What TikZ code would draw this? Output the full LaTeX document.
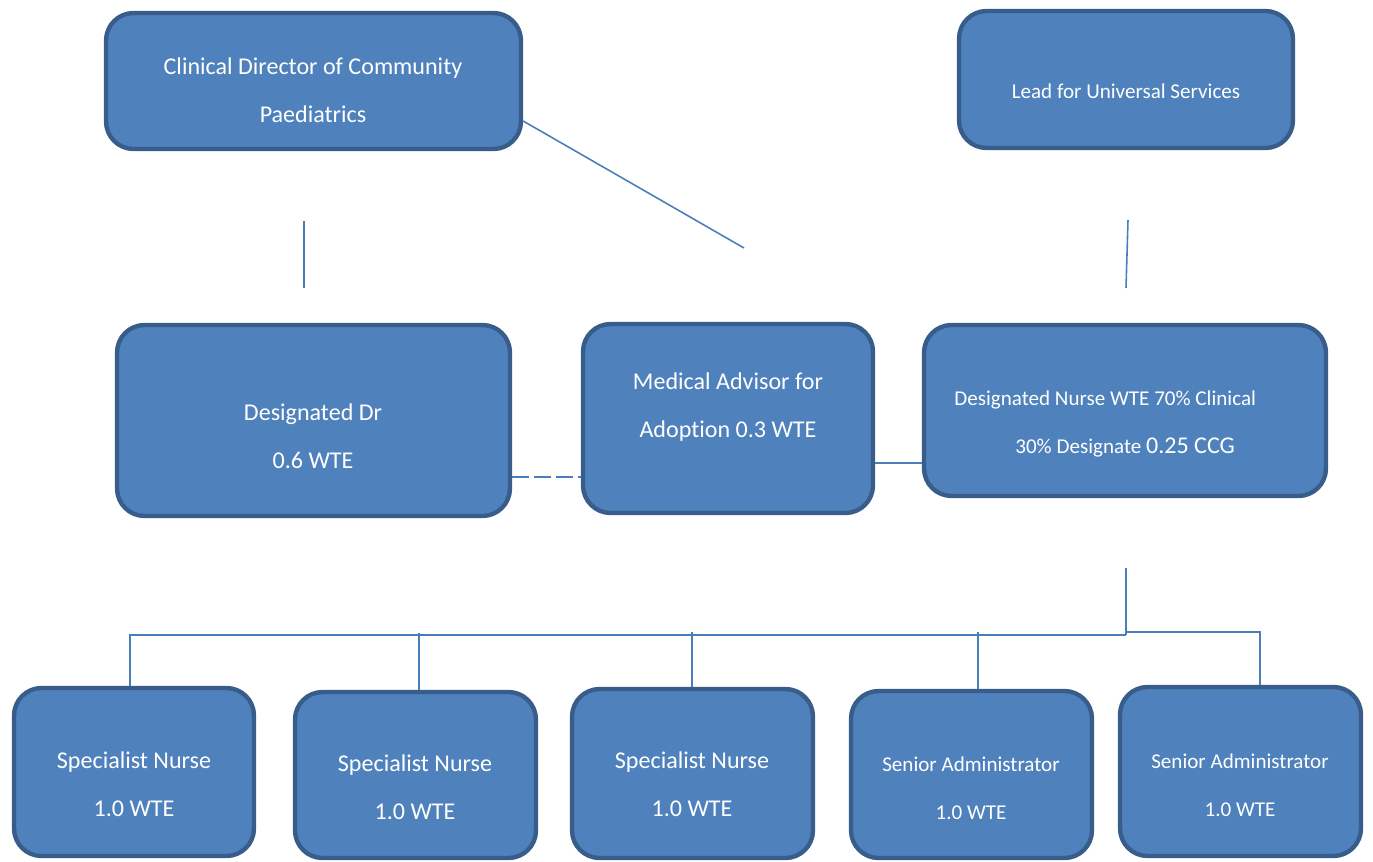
\documentclass[tikz,border=0pt]{standalone}
\usepackage{fontspec}
\setmainfont[Ligatures=NoCommon]{Carlito}
\definecolor{postfill}{HTML}{4F81BD}
\definecolor{postline}{HTML}{385D8A}
\definecolor{linkline}{HTML}{4A7EBB}
\begin{document}
\begin{tikzpicture}[x=0.02cm, y=-0.02cm,
  post/.style={draw=postline, fill=postfill, line width=2.5pt, rounded corners=0.55cm, inner sep=0pt},
  txt/.style={text=white, align=center, inner sep=0pt, font=\fontsize{13.7}{27.2}\selectfont},
  smalltxt/.style={txt, font=\fontsize{12}{27.2}\selectfont},
  link/.style={draw=linkline, line width=0.9pt}]
\useasboundingbox (0,0) rectangle (1373,862);
% top row
\node[post, minimum width=8.30cm, minimum height=2.72cm] (cd) at (313.5,81) {};
\node[post, minimum width=6.68cm, minimum height=2.74cm] (lead) at (1126,79.5) {};
% middle row
\node[post, minimum width=7.86cm, minimum height=3.82cm] (dd) at (313.5,420.5) {};
\node[post, minimum width=5.80cm, minimum height=3.78cm] (ma) at (728,418.5) {};
\node[post, minimum width=8.04cm, minimum height=3.42cm] (dn) at (1125,410.5) {};
% bottom row
\node[post, minimum width=4.80cm, minimum height=3.36cm] (sn1) at (134,772) {};
\node[post, minimum width=4.82cm, minimum height=3.32cm] (sn2) at (415.5,775) {};
\node[post, minimum width=4.82cm, minimum height=3.38cm] (sn3) at (692.5,773.5) {};
\node[post, minimum width=4.82cm, minimum height=3.34cm] (sa1) at (971.5,774.5) {};
\node[post, minimum width=4.82cm, minimum height=3.38cm] (sa2) at (1240.5,771.5) {};
% texts
\node[txt] (cdText) at (313,90.5) {Clinical Director of Community\\Paediatrics};
\node[smalltxt] (leadText) at (1126,91) {Lead for Universal Services};
\node[txt] (ddText) at (313,436.5) {Designated Dr\\0.6 WTE};
\node[txt] (maText) at (728,407) {Medical Advisor for\\Adoption 0.3 WTE};
\node[smalltxt, align=left, anchor=west] (dnText) at (954,424) {Designated Nurse WTE 70\% Clinical\\\hspace*{1.22cm}30\% Designate {\fontsize{13.7}{27.2}\selectfont 0.25 CCG}};
\node[txt] (sn1Text) at (134,784) {Specialist Nurse\\1.0 WTE};
\node[txt] (sn2Text) at (415,787.5) {Specialist Nurse\\1.0 WTE};
\node[txt] (sn3Text) at (692,784.5) {Specialist Nurse\\1.0 WTE};
\node[smalltxt] (sa1Text) at (971,788) {Senior Administrator\\1.0 WTE};
\node[smalltxt] (sa2Text) at (1240,785) {Senior Administrator\\1.0 WTE};
% free ends
\coordinate (cdStubTop) at (304,221);
\coordinate (cdStubBot) at (304,288);
\coordinate (cdDiagEnd) at (744,248);
\coordinate (leadStubTop) at (1128,220);
\coordinate (leadStubBot) at (1126,288);
\coordinate (dnStubTop) at (1126,568);
\coordinate (busMid) at (1126,635);
% connectors
\draw[link] (cdStubTop) -- (cdStubBot);
\draw[link] ([yshift=-0.8cm]cd.east) -- (cdDiagEnd);
\draw[link] (leadStubTop) -- (leadStubBot);
\draw[link, dash pattern=on 9.5pt off 3pt] ([yshift=-1.13cm]dd.east) -- ([yshift=-1.17cm]ma.west);
\draw[link] ([yshift=-0.89cm]ma.east) -- ([yshift=-1.05cm]dn.west);
\draw[link] (dnStubTop) -- (busMid);
\draw[link] (busMid) -| ([xshift=-0.08cm]sn1.north);
\draw[link] (busMid) -- ++(0,-3) -| ([xshift=0.39cm]sa2.north);
\draw[link] ([xshift=0.07cm]sn2.north) -- ++(0,-57);
\draw[link] ([xshift=-0.01cm]sn3.north) -- ++(0,-55);
\draw[link] ([xshift=0.13cm]sa1.north) -- ++(0,-57);
\end{tikzpicture}
\end{document}
